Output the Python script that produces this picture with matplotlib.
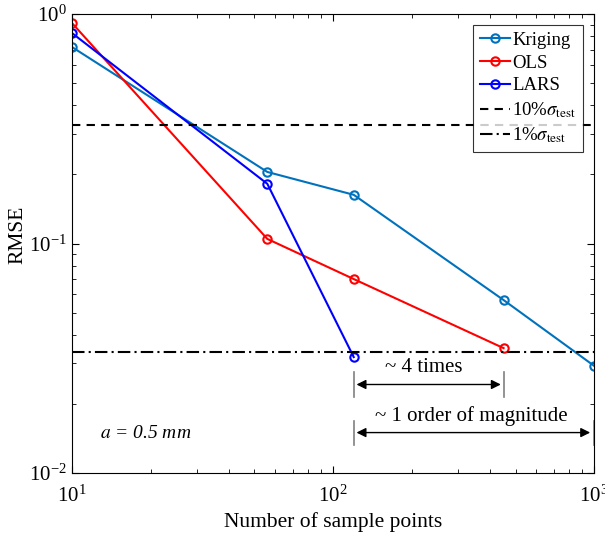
import matplotlib.pyplot as plt

plt.rcParams['font.family'] = ['Liberation Serif', 'DejaVu Serif']
plt.rcParams['mathtext.fontset'] = 'stix'

# data
n_krig = [10, 56, 120, 450, 1000]
rmse_krig = [0.718, 0.205, 0.163, 0.0567, 0.0293]
n_ols = [10, 56, 120, 450]
rmse_ols = [0.913, 0.1047, 0.070, 0.035]
n_lars = [10, 56, 120]
rmse_lars = [0.826, 0.182, 0.032]
sigma10 = 0.328
sigma1 = 0.0337

fig = plt.figure(figsize=(6.05, 5.33), dpi=100)
ax = fig.add_axes([0.119, 0.1126, 0.863, 0.8611])

mk = dict(marker='o', mfc='none', ms=6, mew=1.5, lw=1.5)
ax.plot(n_krig, rmse_krig, color='#0072BD', label='Kriging', **mk)
ax.plot(n_ols, rmse_ols, color='#FF0000', label='OLS', **mk)
ax.plot(n_lars, rmse_lars, color='#0000FF', label='LARS', **mk)
ax.axhline(sigma10, color='k', ls=(0, (4, 3)), lw=1.5, label=r'10%$\sigma_{\rm test}$')
ax.axhline(sigma1, color='k', ls=(0, (6, 2, 1, 2)), lw=1.5, label=r'1%$\sigma_{\rm test}$')

ax.set_xscale('log')
ax.set_yscale('log')
ax.set_xlim(10, 1000)
ax.set_ylim(1e-2, 1)
ax.tick_params(which='both', direction='in', top=True, right=True, labelsize=15)
ax.tick_params(axis='x', pad=9)
ax.tick_params(axis='y', pad=4)
ax.tick_params(which='major', length=5)
ax.tick_params(which='minor', length=3)
ax.set_xlabel('Number of sample points', fontsize=15.5, labelpad=4)
ax.set_ylabel('RMSE', fontsize=15.5, labelpad=0)
ax.yaxis.set_label_coords(-0.085, 0.52)

leg = ax.legend(loc='upper right', fontsize=13.5, fancybox=False, edgecolor='k',
                handlelength=1.6, handletextpad=0.15, borderaxespad=0.6,
                labelspacing=0.3, borderpad=0.35)
leg.get_frame().set_linewidth(0.8)

# annotations
bar = dict(color='gray', lw=1.2)
ax.plot([120, 120], [0.0215, 0.0275], **bar)
ax.plot([450, 450], [0.0215, 0.0275], **bar)
ax.annotate('', xy=(120, 0.0243), xytext=(450, 0.0243),
            arrowprops=dict(arrowstyle='<|-|>', color='k', lw=1, mutation_scale=14))
ax.text(222, 0.0262, '~ 4 times', ha='center', va='bottom', fontsize=15)
ax.plot([120, 120], [0.0133, 0.0168], **bar)
ax.plot([1000, 1000], [0.0133, 0.0168], **bar)
ax.annotate('', xy=(120, 0.0150), xytext=(990, 0.0150),
            arrowprops=dict(arrowstyle='<|-|>', color='k', lw=1, mutation_scale=14))
ax.text(340, 0.0161, '~ 1 order of magnitude', ha='center', va='bottom', fontsize=15)
ax.text(12.8, 0.0148, r'$a$ = 0.5 mm', fontsize=14, style='italic', va='center')

fig.savefig('out.png', dpi=100)
